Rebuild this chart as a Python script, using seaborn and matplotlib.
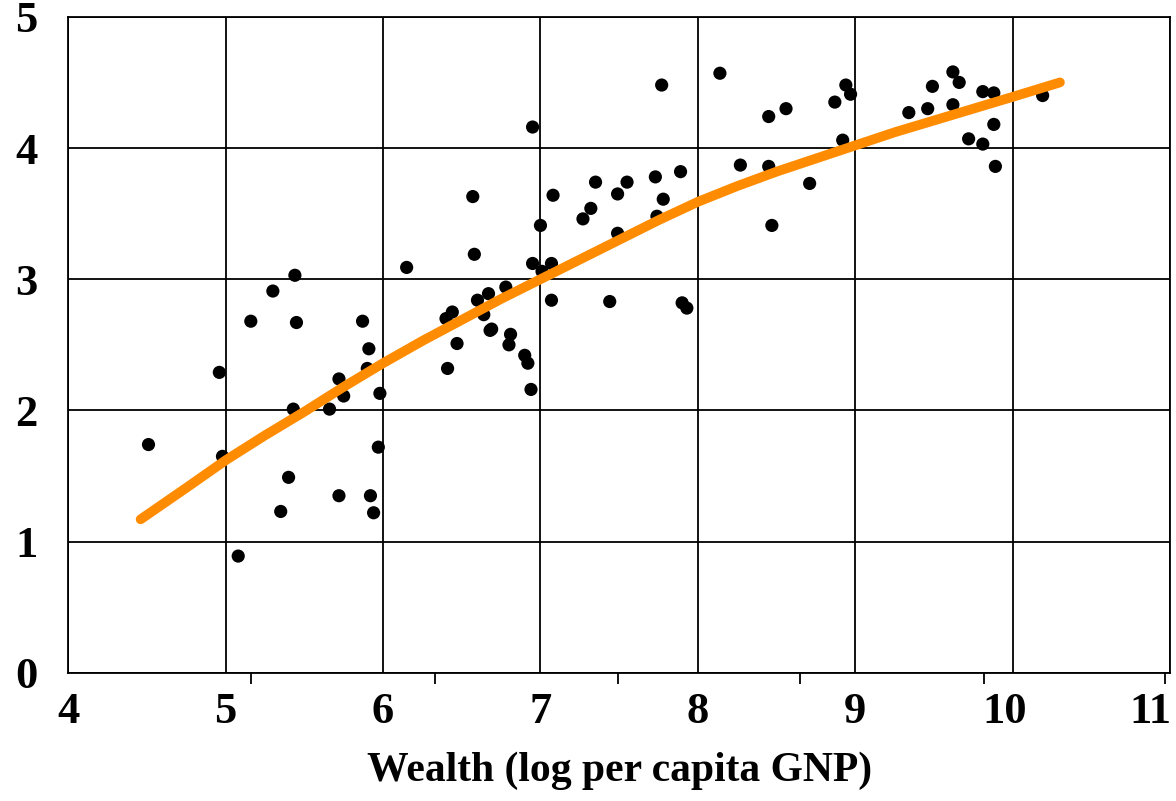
import numpy as np
import pandas as pd
import matplotlib
matplotlib.use("Agg")
import matplotlib.pyplot as plt
import matplotlib.transforms as mtransforms
import seaborn as sns

sns.set_theme(style="white")
plt.rcParams['font.family'] = ['Liberation Serif', 'DejaVu Serif']
plt.rcParams['text.color'] = 'black'
plt.rcParams['axes.labelcolor'] = 'black'
plt.rcParams['xtick.color'] = 'black'
plt.rcParams['ytick.color'] = 'black'

# scatter points (log GNP, y value)
wealth = [4.51, 4.96, 4.98, 5.08, 5.16, 5.30, 5.35, 5.40, 5.43, 5.44, 5.45,
          5.66, 5.72, 5.72, 5.75, 5.87, 5.90, 5.91, 5.92, 5.94, 5.97, 5.98,
          6.15, 6.40, 6.41, 6.44, 6.47, 6.57, 6.58, 6.60, 6.64, 6.67, 6.68,
          6.69, 6.78, 6.80, 6.81, 6.90, 6.92, 6.94, 6.95, 6.95, 7.00, 7.01,
          7.07, 7.07, 7.08, 7.27, 7.32, 7.35, 7.44, 7.49, 7.49, 7.55, 7.73,
          7.74, 7.77, 7.78, 7.89, 7.90, 7.93, 8.14, 8.27, 8.45, 8.45, 8.47,
          8.56, 8.71, 8.87, 8.92, 8.94, 8.97, 9.34, 9.46, 9.49, 9.62, 9.62,
          9.66, 9.72, 9.81, 9.81, 9.88, 9.88, 9.89, 10.19]
score = [1.74, 2.29, 1.65, 0.89, 2.68, 2.91, 1.23, 1.49, 2.01, 3.03, 2.67,
         2.01, 2.24, 1.35, 2.11, 2.68, 2.32, 2.47, 1.35, 1.22, 1.72, 2.13,
         3.09, 2.70, 2.32, 2.75, 2.51, 3.63, 3.19, 2.84, 2.73, 2.89, 2.61,
         2.62, 2.94, 2.50, 2.58, 2.42, 2.36, 2.16, 4.16, 3.12, 3.41, 3.06,
         3.12, 2.84, 3.64, 3.46, 3.54, 3.74, 2.83, 3.65, 3.35, 3.74, 3.78,
         3.48, 4.48, 3.61, 3.82, 2.82, 2.78, 4.57, 3.87, 4.24, 3.86, 3.41,
         4.30, 3.73, 4.35, 4.06, 4.48, 4.41, 4.27, 4.30, 4.47, 4.58, 4.33,
         4.50, 4.07, 4.43, 4.03, 4.42, 4.18, 3.86, 4.40]

# smoothed fit line
fit_x = [4.46, 4.75, 5.0, 5.25, 5.5, 5.75, 6.0, 6.25, 6.5, 6.75, 7.0, 7.25,
         7.5, 7.75, 8.0, 8.25, 8.5, 8.75, 9.0, 9.25, 9.5, 9.75, 10.0, 10.3]
fit_y = [1.17, 1.41, 1.62, 1.81, 1.99, 2.18, 2.36, 2.53, 2.69, 2.85, 3.00, 3.15,
         3.30, 3.45, 3.59, 3.71, 3.82, 3.92, 4.02, 4.12, 4.21, 4.30, 4.39, 4.50]

x_ticks = [4, 5, 6, 7, 8, 9, 10, 11]
y_ticks = [0, 1, 2, 3, 4, 5]

pts = pd.DataFrame({"wealth": wealth, "score": score})
fit = pd.DataFrame({"wealth": fit_x, "score": fit_y})

fig = plt.figure(figsize=(11.76, 8.01), dpi=100)
ax = fig.add_axes([0.058, 0.160, 0.937, 0.819])

sns.scatterplot(data=pts, x="wealth", y="score", ax=ax, color="black",
                s=90, edgecolor="none", zorder=3)
sns.lineplot(data=fit, x="wealth", y="score", ax=ax, color="#FF8C00",
             linewidth=7, sort=False, zorder=4, solid_capstyle="round")

ax.set_xlim(4, 11)
ax.set_ylim(0, 5)
ax.set_xticks(x_ticks)
ax.set_yticks(y_ticks)
ax.set_xticks([5.16, 6.33, 7.49, 8.65, 9.82, 10.97], minor=True)
ax.grid(True, which="major", color="black", linewidth=1.3)
ax.set_axisbelow(True)
for sp in ax.spines.values():
    sp.set_color("black")
    sp.set_linewidth(1.3)

ax.tick_params(axis="both", which="major", direction="out", length=8,
               width=1.3, color="black", labelsize=32, labelcolor="black")
ax.tick_params(axis="x", which="minor", direction="out", length=8,
               width=1.3, color="black", bottom=True)
ax.tick_params(axis="x", pad=6)
ax.tick_params(axis="y", pad=14)
for lab in ax.get_xticklabels() + ax.get_yticklabels():
    lab.set_fontweight("bold")

# last x label sits a little left of its gridline, as in the original
xl = ax.get_xticklabels()
shift = mtransforms.ScaledTranslation(-20 / 100, 0, fig.dpi_scale_trans)
xl[-1].set_transform(xl[-1].get_transform() + shift)
shift10 = mtransforms.ScaledTranslation(-8 / 100, 0, fig.dpi_scale_trans)
xl[-2].set_transform(xl[-2].get_transform() + shift10)

ax.set_xlabel("Wealth (log per capita GNP)", fontsize=30, fontweight="bold",
              labelpad=14, color="black")
ax.set_ylabel("")

fig.savefig("out.png", dpi=100)
